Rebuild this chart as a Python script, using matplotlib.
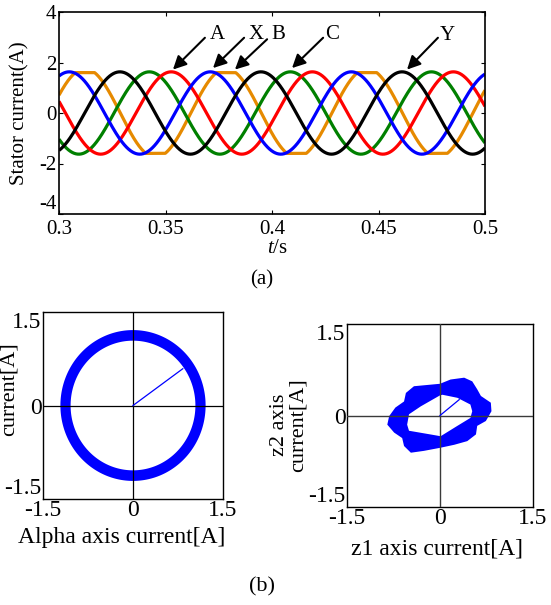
import numpy as np
import matplotlib
matplotlib.use("Agg")
import matplotlib.pyplot as plt

plt.rcParams['font.family'] = ['Liberation Serif', 'DejaVu Serif']
plt.rcParams['axes.unicode_minus'] = False
plt.rcParams['mathtext.fontset'] = 'custom'
plt.rcParams['mathtext.it'] = 'Liberation Serif:italic'
plt.rcParams['mathtext.rm'] = 'Liberation Serif'

# ---- (a) stator phase currents ----
t_start, t_end = 0.3, 0.5
freq_hz = 15.1
phase_names = ["orange", "green", "red", "blue", "black"]
phase_colors = ["#e68a00", "#008000", "#ff0000", "#0000ff", "#000000"]
peak_times = [0.3122, 0.3424, 0.3527, 0.3048, 0.3286]
amplitudes = [1.76, 1.63, 1.63, 1.63, 1.63]
clip_levels = [1.60, 9.0, 9.0, 9.0, 9.0]

arrow_labels = ["A", "X", "B", "C", "Y"]
label_t = [0.3742, 0.3925, 0.4030, 0.4282, 0.4822]
label_i = [3.10, 3.10, 3.10, 3.10, 3.05]
tail_t = [0.3685, 0.3869, 0.3977, 0.4240, 0.4779]
tail_i = [2.98, 2.98, 2.92, 2.98, 2.98]
tip_t = [0.3535, 0.3723, 0.3826, 0.4094, 0.4634]
tip_i = [1.72, 1.78, 1.72, 1.78, 1.72]

# ---- (b) alpha-beta plane ----
ab_inner_r = 1.04
ab_outer_r = 1.21
ab_vector = (0.83, 0.59)

# ---- (b) z1-z2 plane: outline of the harmonic trajectory band ----
# outer edge (counter-clockwise)
z_outer_x = [0.00, -0.42, -0.55, -0.58, -0.72, -0.82, -0.85, -0.74, -0.61,
             -0.58, -0.47, -0.26, 0.00, 0.23, 0.44, 0.58, 0.60, 0.74, 0.83,
             0.82, 0.66, 0.60, 0.52, 0.39, 0.17]
z_outer_y = [0.52, 0.48, 0.37, 0.23, 0.13, -0.01, -0.15, -0.28, -0.37,
             -0.50, -0.61, -0.58, -0.53, -0.48, -0.42, -0.31, -0.17, -0.09,
             0.07, 0.21, 0.32, 0.43, 0.56, 0.62, 0.59]
# inner edge of the hole (clockwise)
z_inner_x = [0.04, 0.28, 0.49, 0.52, 0.49, 0.28, 0.01, -0.10, -0.50, -0.53,
             -0.50, -0.31, 0.00]
z_inner_y = [0.34, 0.29, 0.18, 0.07, -0.04, -0.17, -0.34, -0.32, -0.25, -0.15,
             0.02, 0.15, 0.33]
z_vector = (0.31, 0.26)

W, H = 551, 605
fig = plt.figure(figsize=(W / 100, H / 100), dpi=100)


def box(l, t, r, b):
    return [l / W, 1 - b / H, (r - l) / W, (b - t) / H]


FS = 15
FSB = 17

# (a)
ax = fig.add_axes(box(59, 12, 485, 214))
t = np.linspace(t_start, t_end, 4001)
for name, col, tp, amp, clip in zip(phase_names, phase_colors, peak_times,
                                     amplitudes, clip_levels):
    i = amp * np.cos(2 * np.pi * freq_hz * (t - tp))
    i = np.clip(i, -clip, clip)
    ax.plot(t, i, color=col, lw=2.3, solid_capstyle='butt')
for lab, lt, li, tt, ti, pt, pi in zip(arrow_labels, label_t, label_i,
                                       tail_t, tail_i, tip_t, tip_i):
    ax.annotate('', xy=(pt, pi), xytext=(tt, ti),
                arrowprops=dict(arrowstyle='-|>', color='k', lw=1.5,
                                mutation_scale=20, shrinkA=0, shrinkB=0))
    ax.text(lt, li, lab, fontsize=FS, ha='center', va='center')
ax.set_xlim(t_start, t_end)
ax.set_ylim(-4, 4)
ax.set_xticks([0.3, 0.35, 0.4, 0.45, 0.5])
ax.set_xticklabels(["0.3", "0.35", "0.4", "0.45", "0.5"])
ax.set_yticks([-4, -2, 0, 2, 4])
ax.tick_params(direction='in', length=3, width=0.8, labelsize=FS, pad=2,
               top=True, right=True)
ax.tick_params(axis='x', pad=4)
ax.get_yticklabels()[0].set_va('bottom')
for s in ax.spines.values():
    s.set_linewidth(1.2)
fig.text(277 / W, 1 - 248 / H, r"$t$/s", fontsize=FS, ha='center', va='center')
fig.text(20 / W, 1 - 113 / H, "Stator current(A)", fontsize=FS, rotation=90,
         ha='center', va='center')
fig.text(262 / W, 1 - 280 / H, "(a)", fontsize=FS, ha='center', va='center')


def plane_axes(rect):
    a = fig.add_axes(rect)
    a.set_xlim(-1.5, 1.5)
    a.set_ylim(-1.5, 1.5)
    a.set_xticks([-1.5, 0, 1.5])
    a.set_yticks([-1.5, 0, 1.5])
    a.set_xticklabels(["-1.5", "0", "1.5"])
    a.set_yticklabels(["-1.5", "0", "1.5"])
    a.tick_params(length=0, labelsize=FSB, pad=1)
    labs = a.get_yticklabels()
    labs[0].set_va('bottom')
    labs[-1].set_va('top')
    for s in a.spines.values():
        s.set_linewidth(1.0)
    return a


# (b) left: alpha-beta current trajectory
axl = plane_axes(box(43, 312, 223, 499))
th = np.linspace(0, 2 * np.pi, 721)
ring_x = np.concatenate([ab_outer_r * np.cos(th), ab_inner_r * np.cos(th[::-1])])
ring_y = np.concatenate([ab_outer_r * np.sin(th), ab_inner_r * np.sin(th[::-1])])
axl.fill(ring_x, ring_y, color='#0000ff', lw=0, zorder=2)
axl.axhline(0, color='k', lw=0.9, zorder=3)
axl.axvline(0, color='k', lw=0.9, zorder=3)
axl.plot([0, ab_vector[0]], [0, ab_vector[1]], color='#0000ff', lw=0.9, zorder=4)
fig.text(122 / W, 1 - 537 / H, "Alpha axis current[A]", fontsize=FSB,
         ha='center', va='center')
fig.text(9 / W, 1 - 389 / H, "current[A]", fontsize=16, rotation=90,
         ha='center', va='center')

# (b) right: z1-z2 current trajectory
axr = plane_axes(box(347, 324, 533, 507))
band_x = z_outer_x + [z_outer_x[0]] + z_inner_x + [z_inner_x[0]]
band_y = z_outer_y + [z_outer_y[0]] + z_inner_y + [z_inner_y[0]]
axr.fill(band_x, band_y, color='#0000ff', lw=0, zorder=2)
axr.axhline(0, color='#3a3a3a', lw=1.0, zorder=3)
axr.axvline(0, color='#3a3a3a', lw=1.0, zorder=3)
axr.plot([0, z_vector[0]], [0, z_vector[1]], color='#0000ff', lw=0.9, zorder=4)
fig.text(437 / W, 1 - 549 / H, "z1 axis current[A]", fontsize=FSB,
         ha='center', va='center')
fig.text(289 / W, 1 - 425 / H, "z2 axis\ncurrent[A]", fontsize=16, rotation=90,
         ha='center', va='center', linespacing=0.95)
fig.text(262 / W, 1 - 587 / H, "(b)", fontsize=16, ha='center', va='center')

fig.savefig("out.png", dpi=100)
